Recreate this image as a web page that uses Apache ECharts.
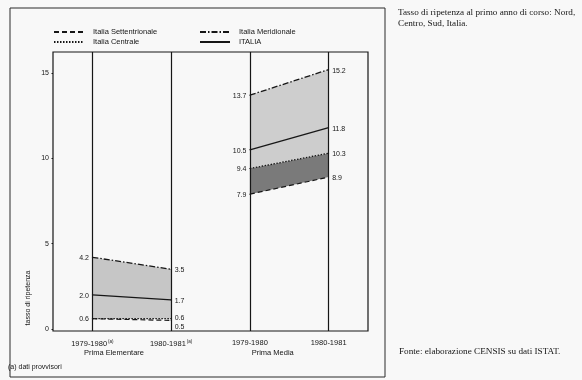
<!DOCTYPE html>
<html>
<head>
<meta charset="utf-8">
<script src="https://cdn.jsdelivr.net/npm/echarts@6/dist/echarts.min.js"></script>
<style>
html,body{margin:0;padding:0;background:#f8f8f8;}
#chart{width:582px;height:380px;}
</style>
</head>
<body>
<div id="chart"></div>
<script>
// ---- data ----
const periods = ['1979-1980', '1980-1981', '1979-1980', '1980-1981'];
const provisional = [true, true, false, false];
const groups = ['Prima Elementare', 'Prima Media'];
const yTicks = [0, 5, 10, 15];
const regions = ['Italia Settentrionale', 'Italia Centrale', 'Italia Meridionale', 'ITALIA'];

const nordElem = [0.6, 0.5];
const centroElem = [0.6, 0.6];
const sudElem = [4.2, 3.5];
const italiaElem = [2.0, 1.7];

const nordMedia = [7.9, 8.9];
const centroMedia = [9.4, 10.3];
const sudMedia = [13.7, 15.2];
const italiaMedia = [10.5, 11.8];

// ---- layout / style ----
const INK = '#161616';
const FONT = 'Liberation Sans, Arial, sans-serif';
const SERIF = 'Liberation Serif, Times New Roman, serif';
const groupLabelPos = [0.275, 2.29];
const styles = {
  'Italia Settentrionale': {type: [5, 3], width: 1.2},
  'Italia Centrale': {type: [1.5, 1.5], width: 1.3},
  'Italia Meridionale': {type: [6, 2, 1.5, 2], width: 1.3},
  'ITALIA': {type: 'solid', width: 1.3}
};

const chart = echarts.init(document.getElementById('chart'), null, {renderer: 'canvas'});

function pts(x0, arr) { return [[x0, arr[0]], [x0 + 1, arr[1]]]; }

function lineSeries(name, x0, arr, opts) {
  opts = opts || {};
  const dy = opts.dy || [1, 1];
  const data = pts(x0, arr).map((p, i) => {
    const hide = opts.hide && opts.hide[i];
    return {
      value: p,
      label: {
        show: !hide,
        position: i === 0 ? 'left' : 'right',
        distance: 3
      }
    };
  });
  return {
    name: name, type: 'line', data: data,
    symbol: 'circle', symbolSize: 1, showSymbol: true, z: 4,
    lineStyle: {color: INK, width: styles[name].width, type: styles[name].type},
    itemStyle: {color: INK},
    label: {color: INK, fontSize: 7, fontFamily: FONT, formatter: p => p.value[1].toFixed(1)},
    labelLayout: params => ({dy: dy[params.dataIndex], hideOverlap: false, moveOverlap: null}),
    emphasis: {disabled: true}, silent: true, animation: false
  };
}

// band between two lines, drawn through the axes' scales
function bandSeries(x0, lower, upper, fill) {
  return {
    type: 'custom', z: 1, silent: true, animation: false,
    data: [[x0, lower[0], lower[1], upper[0], upper[1]]],
    encode: {x: 0, y: [1, 2, 3, 4]},
    renderItem: (params, api) => {
      const x = api.value(0);
      const p = [
        api.coord([x, api.value(3)]),
        api.coord([x + 1, api.value(4)]),
        api.coord([x + 1, api.value(2)]),
        api.coord([x, api.value(1)])
      ];
      return {type: 'polygon', shape: {points: p}, style: {fill: fill}};
    }
  };
}

const series = [
  bandSeries(0, centroElem, italiaElem, '#c9c9c9'),
  bandSeries(0, italiaElem, sudElem, '#c6c6c6'),
  bandSeries(2, nordMedia, centroMedia, '#7a7a7a'),
  bandSeries(2, centroMedia, italiaMedia, '#cdcdcd'),
  bandSeries(2, italiaMedia, sudMedia, '#cecece'),
  lineSeries('Italia Meridionale', 0, sudElem),
  lineSeries('ITALIA', 0, italiaElem),
  lineSeries('Italia Centrale', 0, centroElem, {dy: [0, -1]}),
  lineSeries('Italia Settentrionale', 0, nordElem, {hide: [true, false], dy: [0, 7]}),
  lineSeries('Italia Meridionale', 2, sudMedia),
  lineSeries('ITALIA', 2, italiaMedia),
  lineSeries('Italia Centrale', 2, centroMedia),
  lineSeries('Italia Settentrionale', 2, nordMedia)
];

// vertical period lines
series[5].markLine = {
  symbol: 'none', silent: true, animation: false,
  label: {show: false},
  lineStyle: {color: INK, width: 1.2, type: 'solid'},
  data: periods.map((p, i) => ({xAxis: i}))
};

function legendCfg(left, top, name) {
  return {
    left: left, top: top, orient: 'horizontal', padding: 0,
    itemWidth: 30, itemHeight: 8,
    data: [name],
    selectedMode: false,
    textStyle: {fontSize: 7.5, fontFamily: FONT, color: INK, padding: [0, 0, 0, 4]},
    itemStyle: {opacity: 0}
  };
}

const option = {
  backgroundColor: '#f8f8f8',
  animation: false,
  legend: [
    legendCfg(53, 28, regions[0]),
    legendCfg(199, 28, regions[2]),
    legendCfg(53, 38, regions[1]),
    legendCfg(199, 38, regions[3])
  ],
  grid: {left: 53, top: 52, right: 214, bottom: 49, show: true, borderColor: INK, borderWidth: 1.2, backgroundColor: 'transparent'},
  xAxis: [{
    type: 'value', min: -0.5, max: 3.5,
    axisLine: {show: false, onZero: false}, axisTick: {show: false}, splitLine: {show: false},
    axisLabel: {
      customValues: [0, 1, 2, 3], margin: 8, fontSize: 7.5, fontFamily: FONT, color: INK,
      formatter: v => {
        const i = Math.round(v);
        return periods[i] + (provisional[i] ? '{sup|(a)}' : '');
      },
      rich: {sup: {fontSize: 4.5, verticalAlign: 'top', padding: [0, 0, 4, 1], fontFamily: FONT, color: INK}}
    }
  }, {
    type: 'value', min: -0.5, max: 3.5, position: 'bottom',
    axisLine: {show: false, onZero: false}, axisTick: {show: false}, splitLine: {show: false},
    axisLabel: {
      customValues: groupLabelPos, margin: 18, fontSize: 7.5, fontFamily: FONT, color: INK,
      formatter: v => groups[Math.abs(v - groupLabelPos[0]) < 0.01 ? 0 : 1]
    }
  }],
  yAxis: {
    type: 'value', min: -0.12, max: 16.23,
    axisLine: {show: false, onZero: false}, splitLine: {show: false},
    axisTick: {show: true, customValues: yTicks, length: 1.5, lineStyle: {color: INK, width: 1}},
    axisLabel: {customValues: yTicks, margin: 4, fontSize: 7, fontFamily: FONT, color: INK}
  },
  series: series,
  graphic: [
    {type: 'rect', shape: {x: 10, y: 8, width: 375, height: 369}, style: {fill: 'none', stroke: '#2a2a2a', lineWidth: 1}, silent: true},
    {type: 'text', x: 28, y: 298, rotation: Math.PI / 2, style: {text: 'tasso di ripetenza', fontSize: 7, fontFamily: FONT, fill: INK, align: 'center', verticalAlign: 'middle'}},
    {type: 'text', x: 8, y: 367, style: {text: '(a) dati provvisori', fontSize: 7, fontFamily: FONT, fill: INK, verticalAlign: 'middle'}},
    {type: 'text', x: 398, y: 7, style: {text: 'Tasso di ripetenza al primo anno di corso: Nord,\nCentro, Sud, Italia.', fontSize: 9.2, lineHeight: 11, fontFamily: SERIF, fill: INK}},
    {type: 'text', x: 399, y: 352, style: {text: 'Fonte: elaborazione CENSIS su dati ISTAT.', fontSize: 9.2, fontFamily: SERIF, fill: INK, verticalAlign: 'middle'}}
  ]
};

chart.setOption(option);
</script>
</body>
</html>
